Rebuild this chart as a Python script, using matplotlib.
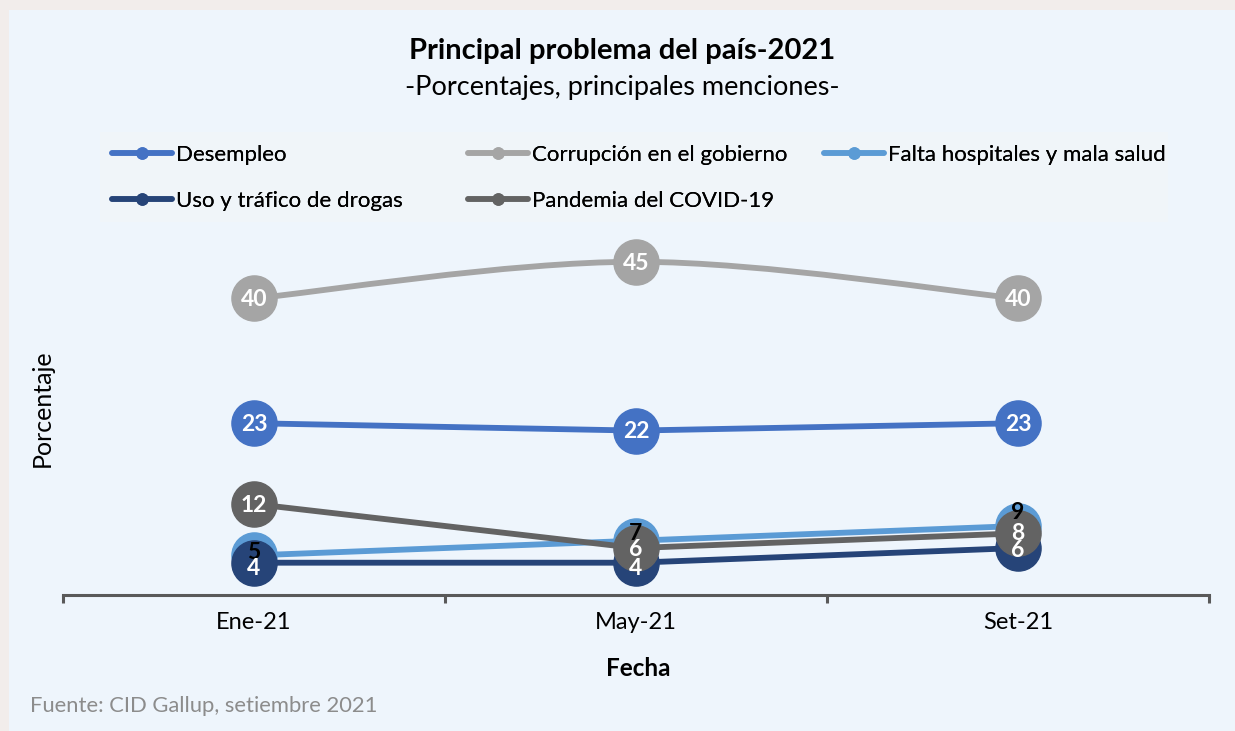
import matplotlib
matplotlib.use("Agg")
import matplotlib.pyplot as plt
import numpy as np
from matplotlib.path import Path
from matplotlib.patches import PathPatch, Rectangle
from matplotlib.lines import Line2D

plt.rcParams['font.family'] = ['Lato', 'DejaVu Sans']

# datos
fechas = ["Ene-21", "May-21", "Set-21"]
desempleo = [23, 22, 23]
corrupcion = [40, 45, 40]
falta_hosp = [5, 7, 9]
drogas = [4, 4, 6]
pandemia = [12, 6, 8]

nombres = ["Desempleo", "Corrupción en el gobierno", "Falta hospitales y mala salud",
           "Uso y tráfico de drogas", "Pandemia del COVID-19"]
series = [desempleo, corrupcion, falta_hosp, drogas, pandemia]
colores = ["#4472C4", "#A5A5A5", "#5B9BD5", "#264478", "#636363"]
color_txt = ["white", "white", "black", "white", "white"]
suave = [False, True, False, False, False]
orden_z = [3, 2, 4, 5, 6]
# desplazamiento vertical de etiquetas (puntos)
desp = [[0, 0, 0], [0, 0, 0], [3, 6, 11], [-3, -3, -1], [0, 0, 1]]

bg = "#EEF5FC"
fig = plt.figure(figsize=(12.35, 7.31), dpi=100, facecolor="#F2EDEB")
fig.patches.append(Rectangle((9/1235, 0), 1, 1 - 10/731, transform=fig.transFigure,
                             facecolor=bg, edgecolor="none", zorder=-2))
fig.patches.append(Rectangle((100/1235, 1 - 222/731), 1068/1235, 90/731, transform=fig.transFigure,
                             facecolor="#F0F5F9", edgecolor="none", zorder=-1))

ax = fig.add_axes([63/1235, 1 - 595/731, 1146/1235, 367/731])
ax.set_facecolor("none")
x = np.arange(len(fechas))

handles = []
for i, s in enumerate(series):
    if suave[i]:
        # curva suavizada estilo Excel (Bezier Catmull-Rom)
        pts = list(zip(x, s))
        verts = [pts[0]]
        codes = [Path.MOVETO]
        for k in range(len(pts) - 1):
            p0 = np.array(pts[k - 1] if k > 0 else pts[k], float)
            p1 = np.array(pts[k], float)
            p2 = np.array(pts[k + 1], float)
            p3 = np.array(pts[k + 2] if k + 2 < len(pts) else pts[k + 1], float)
            c1 = p1 + (p2 - p0) / 6
            c2 = p2 - (p3 - p1) / 6
            verts += [tuple(c1), tuple(c2), tuple(p2)]
            codes += [Path.CURVE4] * 3
        ax.add_patch(PathPatch(Path(verts, codes), facecolor="none", edgecolor=colores[i],
                               lw=4.2, zorder=orden_z[i], capstyle="round"))
        ax.plot(x, s, linestyle="none", marker="o", ms=32.5, color=colores[i], zorder=orden_z[i])
    else:
        ax.plot(x, s, color=colores[i], lw=4.2, marker="o", ms=32.5, zorder=orden_z[i],
                solid_capstyle="round")
    handles.append(Line2D([0], [0], color=colores[i], lw=4, marker="o", ms=8,
                          solid_capstyle="round"))
    for j, v in enumerate(s):
        ax.annotate(str(v), (x[j], v), xytext=(0, desp[i][j] - 1), textcoords="offset points",
                    ha="center", va="center", fontsize=16.5, fontweight="bold",
                    color=color_txt[i], zorder=10)

ax.set_xlim(-0.5, 2.5)
ax.set_ylim(-0.4, 49.6)
for sp in ["top", "right", "left"]:
    ax.spines[sp].set_visible(False)
ax.spines["bottom"].set_color("#595959")
ax.spines["bottom"].set_linewidth(2.2)
ax.set_yticks([])
ax.set_xticks(x)
ax.set_xticklabels(fechas, fontsize=17)
ax.tick_params(axis="x", which="major", length=0, pad=12)
ax.set_xticks([-0.5, 0.5, 1.5, 2.5], minor=True)
ax.tick_params(axis="x", which="minor", length=6, width=2.2, color="#595959", direction="out")

fig.text(638/1235, 1 - 668/731, "Fecha", ha="center", va="center", fontsize=17.5, fontweight="bold")
fig.text(42/1235, 1 - 408/731, "Porcentaje", ha="center", va="center", fontsize=18, rotation=90)
fig.text(622/1235, 1 - 51/731, "Principal problema del país-2021", ha="center", va="center",
         fontsize=21, fontweight="bold")
fig.text(622/1235, 1 - 88/731, "-Porcentajes, principales menciones-", ha="center", va="center",
         fontsize=19.5)
fig.text(30/1235, 1 - 706/731, "Fuente: CID Gallup, setiembre 2021", ha="left", va="center",
         fontsize=15.8, color="#8C8C8C")

# leyenda en tres columnas
columnas = [[0, 3], [1, 4], [2]]
x_col = [112, 468, 824]
for c, idx in enumerate(columnas):
    leg = fig.legend([handles[k] for k in idx], [nombres[k] for k in idx],
                     loc="upper left", bbox_to_anchor=(x_col[c] / 1235, 1 - 145/731),
                     frameon=False, fontsize=16, handlelength=2.7, handletextpad=0.2,
                     labelspacing=1.15, borderpad=0, borderaxespad=0)
    fig.add_artist(leg)

fig.savefig("out.png", dpi=100, facecolor=fig.get_facecolor())
